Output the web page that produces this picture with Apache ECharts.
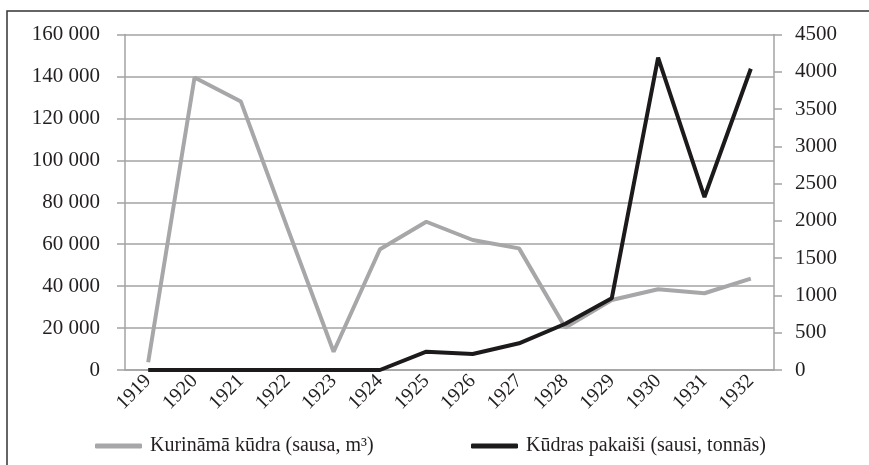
<!DOCTYPE html>
<html>
<head>
<meta charset="utf-8">
<script src="https://cdn.jsdelivr.net/npm/echarts@6/dist/echarts.min.js"></script>
<style>
  html, body { margin: 0; padding: 0; background: #fff; }
  #chart { width: 869px; height: 465px; }
</style>
</head>
<body>
<div id="chart"></div>
<script>
// dati
const years = ['1919', '1920', '1921', '1922', '1923', '1924', '1925', '1926', '1927', '1928', '1929', '1930', '1931', '1932'];
const kurinamaKudra = [3700, 139500, 128000, 68000, 8700, 57600, 70700, 62000, 58000, 20200, 33400, 38500, 36600, 43600];
const kudrasPakaisi = [0, 0, 0, 0, 0, 0, 245, 215, 358, 620, 961, 4190, 2320, 4040];
const leftTicks = { min: 0, max: 160000, interval: 20000 };
const rightTicks = { min: 0, max: 4500, interval: 500 };
const seriesNames = ['Kurināmā kūdra (sausa, m³)', 'Kūdras pakaiši (sausi, tonnās)'];

const greyColor = '#a7a7a9';
const blackColor = '#1d1a1b';
const gridColor = '#a3a3a3';
const textColor = '#231f20';
const font = '"Liberation Serif", "DejaVu Serif", serif';

const chart = echarts.init(document.getElementById('chart'));

const option = {
  backgroundColor: '#fff',
  animation: false,
  textStyle: { fontFamily: font },
  graphic: [
    { // rāmis (tikai augša un kreisā mala)
      type: 'polyline',
      shape: { points: [[7, 465], [7, 11], [869, 11]] },
      style: { stroke: '#333', lineWidth: 1.5, fill: null }
    }
  ],
  grid: { left: 125, right: 95, top: 34.5, bottom: 95, containLabel: false },
  legend: [
    {
      left: 90, top: 431,
      data: [seriesNames[0]],
      icon: 'roundRect', itemWidth: 47, itemHeight: 5, itemGap: 0,
      textStyle: { fontFamily: font, fontSize: 20, color: textColor, padding: [0, 0, 0, 3] }
    },
    {
      left: 466, top: 431,
      data: [seriesNames[1]],
      icon: 'roundRect', itemWidth: 47, itemHeight: 5, itemGap: 0,
      textStyle: { fontFamily: font, fontSize: 20, color: textColor, padding: [0, 0, 0, 3] }
    }
  ],
  xAxis: {
    type: 'category',
    data: years,
    boundaryGap: true,
    axisLine: { lineStyle: { color: gridColor, width: 1.5 } },
    axisTick: { length: 7, lineStyle: { color: gridColor, width: 1.5 } },
    axisLabel: { rotate: 45, margin: 8, fontSize: 20, color: textColor, fontFamily: font }
  },
  yAxis: [
    {
      type: 'value',
      min: leftTicks.min, max: leftTicks.max, interval: leftTicks.interval,
      axisLine: { show: true, lineStyle: { color: gridColor, width: 1.5 } },
      axisTick: { show: true, length: 8, lineStyle: { color: gridColor, width: 1.5 } },
      splitLine: { lineStyle: { color: gridColor, width: 1.5 } },
      axisLabel: {
        margin: 25, fontSize: 21, color: textColor, fontFamily: font,
        formatter: v => v === 0 ? '0' : String(v).replace(/\B(?=(\d{3})+(?!\d))/g, ' ')
      }
    },
    {
      type: 'value',
      position: 'right',
      min: rightTicks.min, max: rightTicks.max, interval: rightTicks.interval,
      axisLine: { show: true, lineStyle: { color: gridColor, width: 1.5 } },
      axisTick: { show: true, length: 8, lineStyle: { color: gridColor, width: 1.5 } },
      splitLine: { show: false },
      axisLabel: { margin: 21, fontSize: 21, color: textColor, fontFamily: font, formatter: v => String(v) }
    }
  ],
  series: [
    {
      name: seriesNames[0],
      type: 'line',
      yAxisIndex: 0,
      data: kurinamaKudra,
      symbol: 'none',
      color: greyColor,
      lineStyle: { color: greyColor, width: 4 },
      z: 2
    },
    {
      name: seriesNames[1],
      type: 'line',
      yAxisIndex: 1,
      data: kudrasPakaisi,
      symbol: 'none',
      color: blackColor,
      lineStyle: { color: blackColor, width: 4 },
      z: 3
    }
  ]
};

chart.setOption(option);
</script>
</body>
</html>
